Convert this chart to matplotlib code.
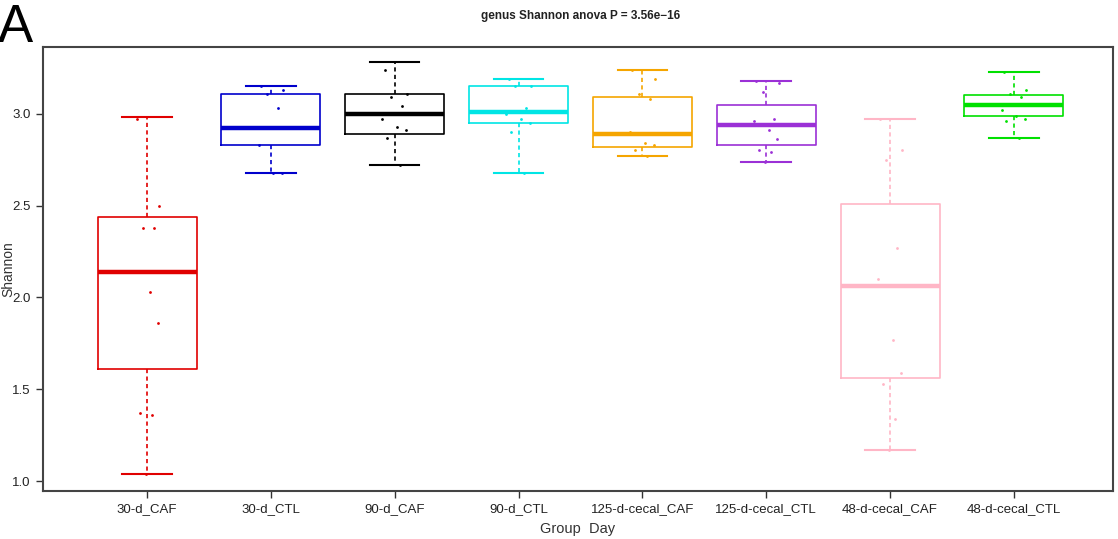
import numpy as np
import matplotlib.pyplot as plt

plt.rcParams['font.family'] = ['Liberation Sans', 'DejaVu Sans']

groups = ['30-d_CAF', '30-d_CTL', '90-d_CAF', '90-d_CTL',
          '125-d-cecal_CAF', '125-d-cecal_CTL', '48-d-cecal_CAF', '48-d-cecal_CTL']
colors = ['#e00000', '#0000cc', '#000000', '#00e5e5',
          '#f5a500', '#9b30d6', '#ffb6c6', '#00e000']

# box stats: lower whisker, Q1, median, Q3, upper whisker
whislo = [1.04, 2.68, 2.72, 2.68, 2.77, 2.74, 1.17, 2.87]
q1 = [1.61, 2.83, 2.89, 2.95, 2.82, 2.83, 1.56, 2.99]
med = [2.14, 2.92, 3.00, 3.01, 2.89, 2.94, 2.06, 3.05]
q3 = [2.44, 3.11, 3.11, 3.15, 3.09, 3.05, 2.51, 3.10]
whishi = [2.98, 3.15, 3.28, 3.19, 3.24, 3.18, 2.97, 3.23]

# individual samples (jittered dots)
pts = [
    [2.97, 2.50, 2.38, 2.38, 2.14, 2.03, 1.86, 1.37, 1.36, 1.04],
    [3.15, 3.13, 3.11, 3.03, 2.83, 2.68, 2.68],
    [3.24, 3.11, 3.09, 3.04, 2.97, 2.93, 2.91, 2.87, 2.72],
    [3.19, 3.15, 3.15, 3.03, 3.00, 2.97, 2.95, 2.90, 2.68],
    [3.24, 3.19, 3.11, 3.08, 2.90, 2.84, 2.83, 2.80, 2.77],
    [3.18, 3.17, 3.12, 2.97, 2.96, 2.91, 2.86, 2.80, 2.79, 2.74],
    [2.97, 2.80, 2.75, 2.27, 2.10, 1.77, 1.59, 1.53, 1.34, 1.17],
    [3.23, 3.13, 3.11, 3.09, 3.02, 2.99, 2.97, 2.96, 2.87],
]
jit = [-0.08, 0.1, -0.03, 0.06, -0.1, 0.02, 0.09, -0.06, 0.04, -0.01]

fig = plt.figure(figsize=(11.18, 5.39), dpi=100)
ax = fig.add_axes([0.0385, 0.089, 0.957, 0.824])

stats = []
for i in range(len(groups)):
    stats.append(dict(whislo=whislo[i], q1=q1[i], med=med[i], q3=q3[i],
                      whishi=whishi[i], fliers=[]))

for i, st in enumerate(stats):
    c = colors[i]
    ax.bxp([st], positions=[i + 1], widths=0.8, showfliers=False,
           boxprops=dict(color=c, linewidth=1.2),
           whiskerprops=dict(color=c, linewidth=1.2, linestyle=(0, (2.5, 2))),
           capprops=dict(color=c, linewidth=1.5),
           medianprops=dict(color=c, linewidth=3.2, solid_capstyle='butt'),
           capwidths=0.4)
    n = len(pts[i])
    ax.scatter(np.full(n, i + 1) + np.array(jit[:n]), pts[i], s=4, color=c,
               linewidths=0, zorder=3)

ax.set_xlim(0.16, 8.8)
ax.set_ylim(0.946, 3.364)
ax.set_xticks(range(1, len(groups) + 1))
ax.set_xticklabels(groups, fontsize=9.5)
ax.set_yticks([1.0, 1.5, 2.0, 2.5, 3.0])
ax.set_yticklabels(['1.0', '1.5', '2.0', '2.5', '3.0'], fontsize=9.5)
ax.tick_params(direction='out', length=5, width=1, color='#333333', pad=4,
               labelcolor='#222222')
for s in ax.spines.values():
    s.set_color('#444444')
    s.set_linewidth(1.5)

ax.set_xlabel('Group  Day', fontsize=10.5, color='#333333', labelpad=5)
fig.text(0.001, 0.5, 'Shannon', rotation=90, ha='left', va='center',
         fontsize=10, color='#333333')
fig.text(0.519, 0.97, 'genus Shannon anova P = 3.56e\u221216', ha='center', va='center',
         fontsize=8.5, fontweight='bold', color='#222222')
fig.text(-0.002, 0.995, 'A', ha='left', va='top', fontsize=38, color='black')

fig.savefig('out.png', dpi=100)
